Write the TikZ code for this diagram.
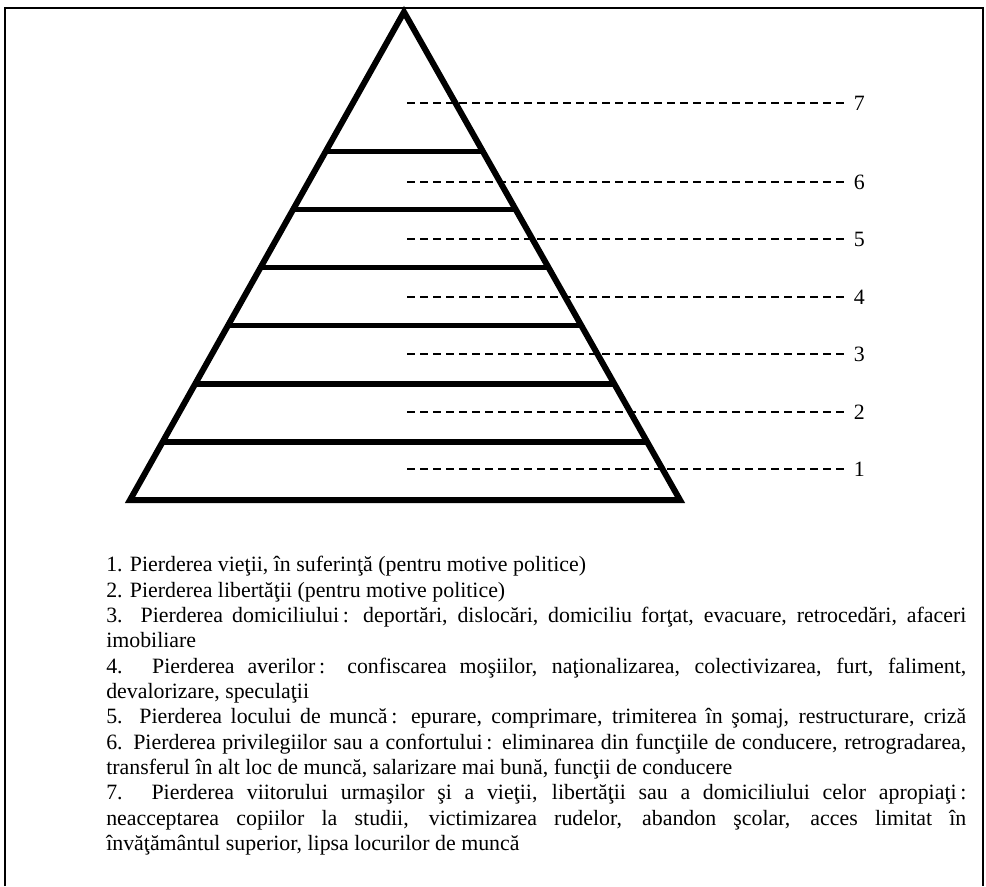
\documentclass[tikz,border=0pt]{standalone}
\usepackage{fontspec}
\setmainfont{Liberation Serif}
\usetikzlibrary{calc}

\tikzset{
  level/.style={line width=4pt},
  guide/.style={line width=1.9pt,dash pattern=on 6pt off 3.75pt},
  num/.style={anchor=west,inner sep=5pt},
}

\begin{document}
\begin{tikzpicture}[x=0.75pt,y=-0.75pt,every node/.style={font=\rmfamily\fontsize{16.4pt}{19pt}\selectfont}]
\useasboundingbox (0,0) rectangle (986,886);
\draw[line width=1.5pt] (5,886) -- (5,8) -- (983,8) -- (983,886);

\coordinate (top) at (404,12);
\coordinate (bl) at (130,500);
\coordinate (br) at (680,500);
\draw[line width=4.5pt] (top) -- (bl) -- (br) -- cycle;
\draw[level] ($(top)!0.881!(bl)$) -- ($(top)!0.881!(br)$);
\draw[level] ($(top)!0.762!(bl)$) -- ($(top)!0.762!(br)$);
\draw[level] ($(top)!0.643!(bl)$) -- ($(top)!0.643!(br)$);
\draw[level] ($(top)!0.524!(bl)$) -- ($(top)!0.524!(br)$);
\draw[level] ($(top)!0.405!(bl)$) -- ($(top)!0.405!(br)$);
\draw[level] ($(top)!0.286!(bl)$) -- ($(top)!0.286!(br)$);

\coordinate (d1) at (407,469);
\coordinate (d2) at (407,412);
\coordinate (d3) at (407,354);
\coordinate (d4) at (407,297);
\coordinate (d5) at (407,239);
\coordinate (d6) at (407,182);
\coordinate (d7) at (407,103);
\node[num] (n1) at (847,469) {1};
\node[num] (n2) at (847,412) {2};
\node[num] (n3) at (847,354) {3};
\node[num] (n4) at (847,297) {4};
\node[num] (n5) at (847,239) {5};
\node[num] (n6) at (847,182) {6};
\node[num] (n7) at (847,103) {7};
\draw[guide] (d1) -- (n1);
\draw[guide] (d2) -- (n2);
\draw[guide] (d3) -- (n3);
\draw[guide] (d4) -- (n4);
\draw[guide] (d5) -- (n5);
\draw[guide] (d6) -- (n6);
\draw[guide] (d7) -- (n7);

\node[anchor=north west,inner sep=0pt,text width=645pt,align=justify] (legend) at (106,556) {%
1. Pierderea vieţii, în suferinţă (pentru motive politice)\par
2. Pierderea libertăţii (pentru motive politice)\par
3. Pierderea domiciliului\,: deportări, dislocări, domiciliu forţat, evacuare, retrocedări, afaceri\linebreak
imobiliare\par
4. Pierderea averilor\,: confiscarea moşiilor, naţionalizarea, colectivizarea, furt, faliment,\linebreak
devalorizare, speculaţii\par
5. Pierderea locului de muncă\,: epurare, comprimare, trimiterea în şomaj, restructurare, criză{\parfillskip=0pt\par}
6. Pierderea privilegiilor sau a confortului\,: eliminarea din funcţiile de conducere, retrogradarea,\linebreak
transferul în alt loc de muncă, salarizare mai bună, funcţii de conducere\par
7. Pierderea viitorului urmaşilor şi a vieţii, libertăţii sau a domiciliului celor apropiaţi\,:\linebreak
neacceptarea copiilor la studii, victimizarea rudelor, abandon şcolar, acces limitat în\linebreak
învăţământul superior, lipsa locurilor de muncă};
\end{tikzpicture}
\end{document}
